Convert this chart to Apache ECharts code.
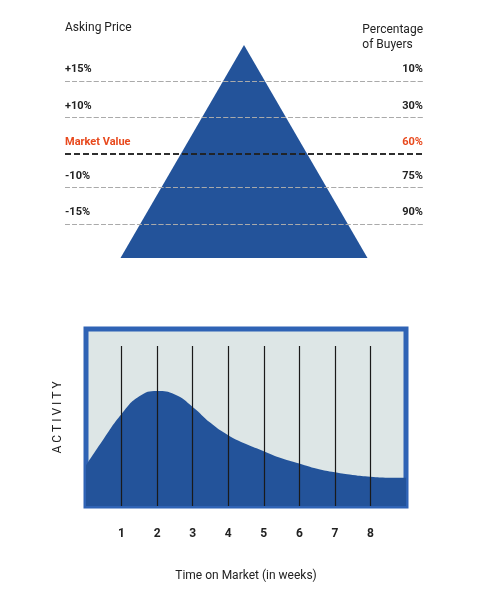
<!DOCTYPE html><html><head><meta charset="utf-8"><script src="https://cdn.jsdelivr.net/npm/echarts@6/dist/echarts.min.js"></script></head><body style="margin:0"><div id="c" style="width:491px;height:589px"></div><script>
const priceLabels=['+15%','+10%','Market Value','-10%','-15%'];
const buyerLabels=['10%','30%','60%','75%','90%'];
const levels=[0.826,0.662,0.493,0.329,0.160];
const pyramid=[[-0.69,0],[0,1],[0.69,0]];
const weeks=[1,2,3,4,5,6,7,8];
const activity=[[0,23],[0.5,38],[1,52],[1.5,62],[2,65],[2.5,63],[3,56],[3.5,47],[4,40],[4.5,35],[5,31],[5.5,27],[6,24],[6.5,21],[7,19],[7.5,17.5],[8,16.5],[8.5,16],[9,16]];
const blue='#23539a',hl='#e8491d';
function lineItems(side){return levels.map((v,i)=>({yAxis:v,lineStyle:{color:i===2?'#222':'#aaa',width:i===2?1.5:1.2},
 label:{show:true,position:side==='l'?'insideStartTop':'insideEndTop',formatter:side==='l'?priceLabels[i]:buyerLabels[i],
 color:i===2?hl:'#222',fontWeight:'bold',fontSize:11,distance:[0,6],fontFamily:'Roboto'}}));}
const ch=echarts.init(document.getElementById('c'));
ch.setOption({animation:false,
graphic:[{type:'text',left:65,top:22,style:{text:'Asking Price',font:'12px Roboto',fill:'#222'}},
{type:'text',right:68,top:22,style:{text:'Percentage\nof Buyers',font:'12px Roboto',fill:'#222',align:'right',lineHeight:15}}],
grid:[{left:65,right:68,top:45,bottom:331},
{left:86,right:85,top:329,bottom:83,show:true,backgroundColor:'#dde6e6',borderColor:'#2f63b5',borderWidth:5,z:0}],
xAxis:[{gridIndex:0,type:'value',min:-1,max:1,show:false},
{gridIndex:1,type:'value',min:0,max:9,interval:1,splitLine:{show:false},axisLine:{show:false},axisTick:{show:false},
 axisLabel:{margin:22,fontSize:12,fontWeight:'bold',color:'#222',fontFamily:'Roboto',formatter:v=>weeks.includes(v)?String(v):''},
 name:'Time on Market (in weeks)',nameLocation:'middle',nameGap:64,nameTextStyle:{fontSize:12,color:'#222',fontFamily:'Roboto'}}],
yAxis:[{gridIndex:0,type:'value',min:0,max:1,show:false},
{gridIndex:1,type:'value',min:0,max:100,axisLabel:{show:false},splitLine:{show:false},axisLine:{show:false},axisTick:{show:false},
 name:'A C T I V I T Y',nameLocation:'middle',nameGap:22,nameTextStyle:{fontSize:12,color:'#222',fontFamily:'Roboto'}}],
series:[{type:'line',xAxisIndex:0,yAxisIndex:0,data:pyramid,symbol:'none',lineStyle:{width:0},areaStyle:{color:blue,opacity:1},
 markLine:{silent:true,symbol:'none',data:lineItems('l')}},
{type:'line',xAxisIndex:0,yAxisIndex:0,data:[],markLine:{silent:true,symbol:'none',data:lineItems('r')}},
{type:'line',xAxisIndex:1,yAxisIndex:1,data:activity,smooth:true,symbol:'none',lineStyle:{width:0},areaStyle:{color:blue,opacity:1},
 markLine:{silent:true,symbol:'none',label:{show:false},lineStyle:{color:'#1a1a1a',width:1.2,type:'solid'},
 data:weeks.map(w=>[{coord:[w,90.4]},{coord:[w,0]}])}}]});
</script></body></html>
